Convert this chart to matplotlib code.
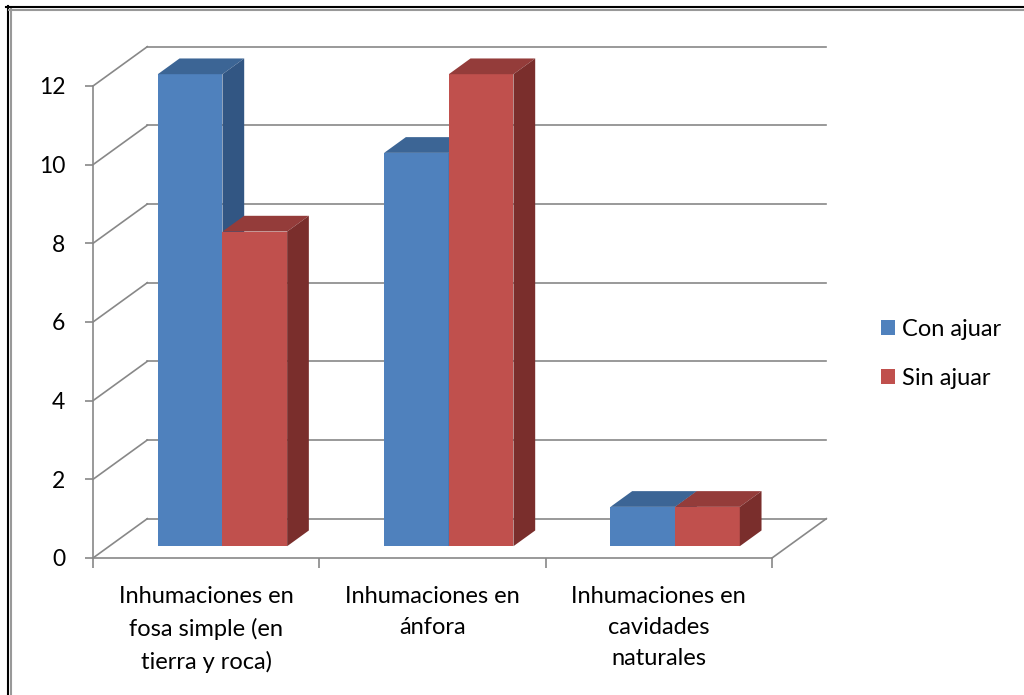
import matplotlib.pyplot as plt
from matplotlib.patches import Polygon, Patch
from matplotlib.lines import Line2D

plt.rcParams['font.family'] = ['Lato', 'DejaVu Sans']

categories = ['Inhumaciones en\nfosa simple (en\ntierra y roca)',
              'Inhumaciones en\nánfora',
              'Inhumaciones en\ncavidades\nnaturales']
con_ajuar = [12, 10, 1]
sin_ajuar = [8, 12, 1]
series = [('Con ajuar', con_ajuar), ('Sin ajuar', sin_ajuar)]
yticks = [0, 2, 4, 6, 8, 10, 12]

# face colours: front, top, side
faces = {
    'Con ajuar': ('#4f81bd', '#3c6595', '#325683'),
    'Sin ajuar': ('#c0504d', '#943c3a', '#7a2e2c'),
}
grid_col = '#888888'

# oblique depth offset in data units
ox, oy = 0.24, 1.0
d0, d1 = 0.3, 0.7          # bar depth band
bw = 1 / 3.5               # bar width (gap 150%)

W, H = 1024, 695
fig = plt.figure(figsize=(W / 100, H / 100), dpi=100)
ax = fig.add_axes([93 / W, (H - 558) / H, 679 / W, 472 / H])
ax.set_xlim(0, 3)
ax.set_ylim(0, 12)
ax.patch.set_alpha(0)

# walls: side diagonals and back gridlines
for v in yticks:
    ax.plot([0, ox], [v, v + oy], color=grid_col, lw=1.2, clip_on=False, zorder=1)
    ax.plot([ox, 3 + ox], [v + oy, v + oy], color=grid_col, lw=1.2, clip_on=False, zorder=1)
ax.plot([3, 3 + ox], [0, oy], color=grid_col, lw=1.2, clip_on=False, zorder=1)

# bars
for ci in range(len(categories)):
    for si, (name, vals) in enumerate(series):
        v = vals[ci]
        x0 = ci + 0.5 - bw + si * bw
        x1 = x0 + bw
        front, top, side = faces[name]
        ax.bar(x0 + d0 * ox, v, width=bw, bottom=d0 * oy, align='edge',
               color=front, clip_on=False, zorder=3 + ci * 3 + si)
        ax.add_patch(Polygon([(x0 + d0 * ox, v + d0 * oy), (x1 + d0 * ox, v + d0 * oy),
                              (x1 + d1 * ox, v + d1 * oy), (x0 + d1 * ox, v + d1 * oy)],
                             closed=True, color=top, lw=0, clip_on=False, zorder=3 + ci * 3 + si))
        ax.add_patch(Polygon([(x1 + d0 * ox, d0 * oy), (x1 + d1 * ox, d1 * oy),
                              (x1 + d1 * ox, v + d1 * oy), (x1 + d0 * ox, v + d0 * oy)],
                             closed=True, color=side, lw=0, clip_on=False, zorder=3 + ci * 3 + si))

# axes
for s in ['top', 'right']:
    ax.spines[s].set_visible(False)
for s in ['left', 'bottom']:
    ax.spines[s].set_color(grid_col)
    ax.spines[s].set_linewidth(1.2)
    ax.spines[s].set_zorder(2)

ax.set_yticks(yticks)
ax.set_yticklabels([str(t) for t in yticks])
ax.tick_params(axis='y', direction='out', length=6, width=1.2, color=grid_col,
               pad=14, labelsize=16.5)
ax.set_xticks([0, 1, 2, 3])
ax.set_xticklabels([])
ax.set_xticks([0.5, 1.5, 2.5], minor=True)
ax.set_xticklabels(categories, minor=True, fontsize=17, linespacing=1.6)
ax.tick_params(axis='x', which='major', direction='out', length=7, width=1.2, color=grid_col)
ax.tick_params(axis='x', which='minor', length=0, pad=20)

handles = [Patch(facecolor=faces[n][0], edgecolor='none') for n, _ in series]
fig.legend(handles, [n for n, _ in series], loc='center left',
           bbox_to_anchor=(860 / W, 1 - 354 / H), frameon=False, fontsize=17,
           handlelength=0.6, handleheight=0.6, handletextpad=0.3, labelspacing=1.2)

# outer frame
fig.add_artist(Line2D([7.5 / W, 7.5 / W], [0, 1 - 6 / H], color='black', lw=1.5))
fig.add_artist(Line2D([10.5 / W, 10.5 / W], [0, 1 - 9 / H], color='#999999', lw=1.5))
fig.add_artist(Line2D([6 / W, 1], [1 - 6.5 / H, 1 - 6.5 / H], color='black', lw=1.5))
fig.add_artist(Line2D([9 / W, 1], [1 - 9.5 / H, 1 - 9.5 / H], color='#999999', lw=1.5))

fig.savefig('out.png', dpi=100)
